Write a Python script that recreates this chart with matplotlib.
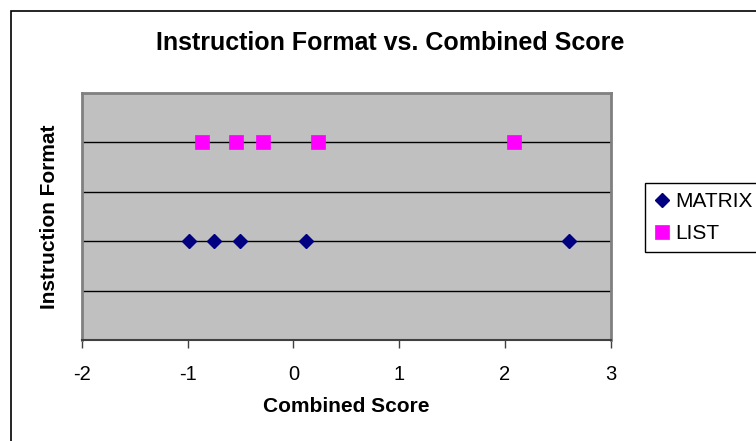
import matplotlib.pyplot as plt
from matplotlib.patches import Rectangle

# data
matrix_score = [-0.985, -0.754, -0.502, 0.116, 2.61]
matrix_fmt = [1, 1, 1, 1, 1]
list_score = [-0.862, -0.540, -0.288, 0.236, 2.087]
list_fmt = [2, 2, 2, 2, 2]
x_ticks = [-2, -1, 0, 1, 2, 3]

plt.rcParams['font.family'] = ['Liberation Sans', 'DejaVu Sans']

fig = plt.figure(figsize=(7.56, 4.41), dpi=100)
ax = fig.add_axes([82 / 756, 1 - 340 / 441, 528.5 / 756, 247 / 441])
ax.set_facecolor('#C0C0C0')

ax.plot(matrix_score, matrix_fmt, 'D', color='#000080', ms=7.5,
        mec='#000080', label='MATRIX', zorder=3, clip_on=False)
ax.plot(list_score, list_fmt, 's', color='#FF00FF', ms=9.5,
        mec='#FF00FF', mew=0.5, label='LIST', zorder=3, clip_on=False)

ax.set_xlim(-2, 3)
ax.set_ylim(0, 2.5)
ax.set_xticks(x_ticks)
ax.set_xticklabels([str(t) for t in x_ticks], fontsize=14.5)
ax.set_yticks([0.5, 1.0, 1.5, 2.0])
ax.set_yticklabels([])
ax.tick_params(axis='y', length=0)
ax.tick_params(axis='x', direction='out', length=6, width=1, color='#404040', pad=12)
ax.grid(axis='y', color='black', linewidth=1)
ax.set_axisbelow(True)

for side in ['left', 'right', 'top']:
    ax.spines[side].set_color('#808080')
    ax.spines[side].set_linewidth(2)
ax.spines['bottom'].set_color('#404040')
ax.spines['bottom'].set_linewidth(1.5)

ax.set_xlabel('Combined Score', fontsize=15, fontweight='bold', va='center')
ax.xaxis.set_label_coords(0.5, -(407 - 340) / 247)
ax.set_ylabel('Instruction Format', fontsize=15, fontweight='bold', va='center')
ax.yaxis.set_label_coords((50 - 82) / 528.5, 0.5)

fig.text(390 / 756, 1 - 43 / 441, 'Instruction Format vs. Combined Score',
         ha='center', va='center', fontsize=18, fontweight='bold')

leg = fig.legend(loc='upper left', bbox_to_anchor=(645 / 756, 1 - 183 / 441),
                 fontsize=15, frameon=True, fancybox=False, framealpha=1,
                 edgecolor='black', handlelength=0.7, handletextpad=0.3,
                 borderpad=0.45, labelspacing=0.6, borderaxespad=0)
leg.get_frame().set_linewidth(1)

# outer chart-area border (runs off the right and bottom edges)
fig.patches.append(Rectangle((11 / 756, -0.1), 1.2, 1 - 11 / 441 + 0.1,
                             transform=fig.transFigure, fill=False,
                             edgecolor='black', linewidth=1.2))

fig.savefig('out.png', dpi=100)
